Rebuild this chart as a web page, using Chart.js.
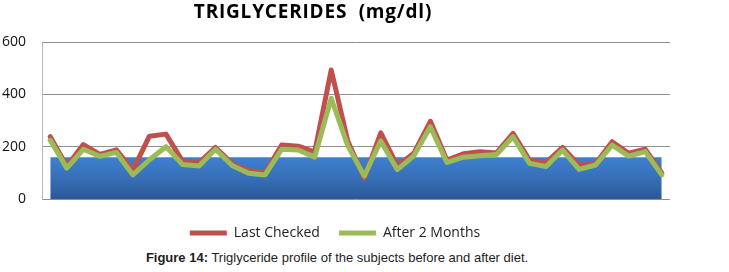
<!DOCTYPE html>
<html>
<head>
<meta charset="utf-8">
<script src="https://cdn.jsdelivr.net/npm/chart.js@4/dist/chart.umd.min.js"></script>
<style>
  html, body { margin: 0; padding: 0; background: #ffffff; }
  #wrap { position: relative; width: 729px; height: 272px; overflow: hidden; background: #fff; }
  #c { position: absolute; left: 0; top: 0; }
  #caption { position: absolute; left: 0; width: 674px; top: 250px; text-align: center;
    font-family: "Liberation Sans", Arial, sans-serif; font-size: 13px; line-height: 15px; color: #1d1d1b; white-space: nowrap; }
</style>
</head>
<body>
<div id="wrap">
  <canvas id="c" width="729" height="250"></canvas>
  <div id="caption"><b>Figure 14:</b> Triglyceride profile of the subjects before and after diet.</div>
</div>
<script>
const chartTitle = "TRIGLYCERIDES  (mg/dl)";
const categories = ["1","2","3","4","5","6","7","8","9","10","11","12","13","14","15","16","17","18","19","20",
  "21","22","23","24","25","26","27","28","29","30","31","32","33","34","35","36","37","38"];
const lastChecked = [238,125,208,170,188,110,240,248,145,138,197,136,108,100,206,202,180,493,222,80,
  253,127,175,297,149,173,181,176,251,149,139,197,129,136,219,175,190,100];
const after2Months = [225,118,190,163,178,92,150,200,132,126,190,128,98,92,190,187,160,385,204,88,
  222,112,165,276,140,160,165,170,238,136,124,187,113,130,206,164,181,92];
const normalBand = [160,160,160,160,160,160,160,160,160,160,160,160,160,160,160,160,160,160,160,160,
  160,160,160,160,160,160,160,160,160,160,160,160,160,160,160,160,160,160];
const yTicks = [0, 200, 400, 600];

const titlePlugin = {
  id: 'customTitle',
  afterDraw(chart) {
    const ctx = chart.ctx;
    ctx.save();
    ctx.font = 'bold 19px "Open Sans", sans-serif';
    try { ctx.letterSpacing = '0.8px'; } catch (e) {}
    ctx.fillStyle = '#000';
    ctx.textAlign = 'center';
    ctx.textBaseline = 'alphabetic';
    ctx.fillText(chartTitle, 313, 18);
    ctx.restore();
  }
};

function bandGradient(context) {
  const chart = context.chart;
  const area = chart.chartArea;
  if (!area) return '#3a78c6';
  const top = chart.scales.y.getPixelForValue(160);
  const g = chart.ctx.createLinearGradient(0, top, 0, area.bottom);
  g.addColorStop(0, '#3e80d0');
  g.addColorStop(0.5, '#376fb8');
  g.addColorStop(1, '#2b5896');
  return g;
}

new Chart(document.getElementById('c'), {
  type: 'line',
  data: {
    labels: categories,
    datasets: [
      { label: 'Last Checked', data: lastChecked, borderColor: '#c0504d', backgroundColor: '#c0504d',
        borderWidth: 5, pointRadius: 0, tension: 0, borderJoinStyle: 'round', borderCapStyle: 'round', order: 1, fill: false },
      { label: 'After 2 Months', data: after2Months, borderColor: '#9bbb59', backgroundColor: '#9bbb59',
        borderWidth: 5, pointRadius: 0, tension: 0, borderJoinStyle: 'round', borderCapStyle: 'round', order: 0, fill: false },
      { label: 'Normal', data: normalBand, borderWidth: 0, borderColor: 'rgba(0,0,0,0)', backgroundColor: bandGradient,
        pointRadius: 0, tension: 0, fill: 'origin', order: 2 }
    ]
  },
  options: {
    responsive: false,
    animation: false,
    events: [],
    layout: { padding: { left: 0, right: 59, top: 42, bottom: 0 } },
    scales: {
      x: {
        offset: true,
        display: true,
        ticks: { display: false },
        grid: { display: false },
        border: { display: false },
        afterFit(scale) { scale.height = 8; }
      },
      y: {
        min: 0, max: 600,
        afterBuildTicks(scale) { scale.ticks = yTicks.map(v => ({ value: v })); },
        afterFit(scale) { scale.width = 42; },
        ticks: { padding: 16, color: '#111', font: { family: '"Open Sans", sans-serif', size: 14 } },
        grid: { color: '#8f8f8f', lineWidth: 1, drawTicks: false },
        border: { display: true, color: '#b5b5b5', width: 1 }
      }
    },
    plugins: {
      title: { display: false },
      tooltip: { enabled: false },
      legend: {
        display: true,
        position: 'bottom',
        labels: {
          usePointStyle: true,
          pointStyle: 'line',
          pointStyleWidth: 37,
          padding: 19,
          color: '#222',
          font: { family: '"Open Sans", sans-serif', size: 14 },
          filter: (item) => item.datasetIndex !== 2,
          sort: (a, b) => a.datasetIndex - b.datasetIndex
        }
      }
    }
  },
  plugins: [titlePlugin]
});
</script>
</body>
</html>
